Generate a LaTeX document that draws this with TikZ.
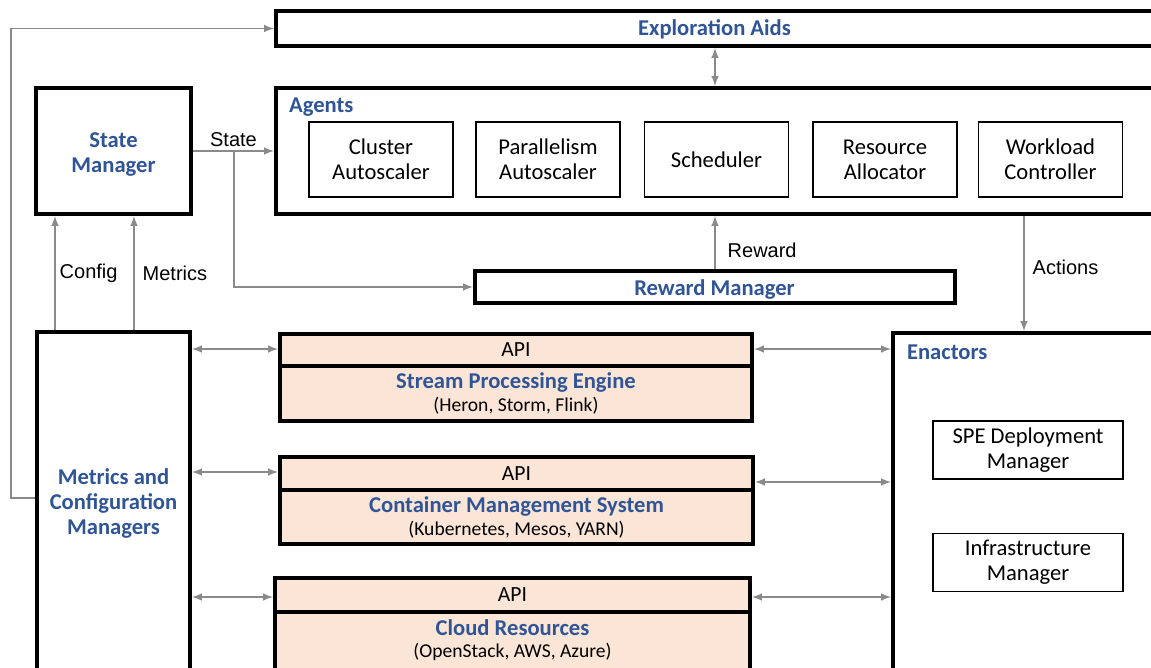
\documentclass[tikz,border=0pt]{standalone}
\usepackage{fontspec}
\setmainfont{Carlito}
\newfontfamily\arialfont{Liberation Sans}
\usetikzlibrary{positioning}
\definecolor{tblue}{RGB}{47,85,151}
\definecolor{peach}{RGB}{251,229,214}
\definecolor{flowgray}{RGB}{138,138,138}
\tikzset{
  bigbox/.style={draw, line width=2pt, fill=white},
  apibox/.style={draw, line width=2pt, fill=peach, align=center, font=\fontsize{10.8}{12.5}\selectfont},
  agentbox/.style={draw, line width=0.6pt, align=center, font=\fontsize{11.3}{12.5}\selectfont,
    minimum width=72pt, minimum height=37.5pt},
  title/.style={font=\fontsize{11.3}{12.5}\selectfont\bfseries, text=tblue, align=center},
  flow/.style={draw=flowgray, line width=0.7pt},
  flowlabel/.style={font=\arialfont\fontsize{10}{12}\selectfont, inner sep=2pt},
}
\newcommand{\sublabel}[1]{{\fontsize{9.8}{11}\selectfont #1}}
\newcommand{\boxtitle}[1]{{\bfseries\color{tblue}\fontsize{11.3}{12.5}\selectfont #1}}
\begin{document}
\begin{tikzpicture}[x=0.5pt, y=-0.5pt]
  \useasboundingbox (0,0) rectangle (1151,668);
  \clip (0,0) rectangle (1151,668);

  % top row
  \node[bigbox, minimum width=447pt, minimum height=17.5pt] (explore) at (723,28.5) {};
  \node[title] (exploretxt) at (714.5,29) {Exploration Aids};
  \node[bigbox, minimum width=447pt, minimum height=63pt] (agents) at (723,151) {};
  \node[title, anchor=west] (agentstxt) at (282,107) {Agents};
  \node[agentbox] (cluster) at (381,159.5) {Cluster\\Autoscaler};
  \node[agentbox] (parallel) at (548,159.5) {Parallelism\\Autoscaler};
  \node[agentbox] (sched) at (716.5,159.5) {Scheduler};
  \node[agentbox] (alloc) at (885,159.5) {Resource\\Allocator};
  \node[agentbox] (workload) at (1050.5,159.5) {Workload\\Controller};

  \node[bigbox, minimum width=77.5pt, minimum height=63pt] (state) at (113.5,151) {};
  \node[title] (statetxt) at (113.5,155) {State\\Manager};
  \node[bigbox, minimum width=240pt, minimum height=16pt] (reward) at (715,287) {};
  \node[title] (rewardtxt) at (714.5,289) {Reward Manager};

  % left column
  \node[bigbox, minimum width=76.5pt, minimum height=184pt] (mcm) at (113.5,516) {};
  \node[title] (mcmtxt) at (113.5,503) {Metrics and\\Configuration\\Managers};

  % middle stack
  \node[apibox, minimum width=236pt, minimum height=16pt] (speapi) at (516,350) {API};
  \node[apibox, minimum width=236pt, minimum height=27.5pt] (spe) at (516,393.5)
    {\boxtitle{Stream Processing Engine}\\[-1pt]\sublabel{(Heron, Storm, Flink)}};
  \node[apibox, minimum width=236.5pt, minimum height=16.5pt] (cmsapi) at (516.5,473.5) {API};
  \node[apibox, minimum width=236.5pt, minimum height=27pt] (cms) at (516.5,517)
    {\boxtitle{Container Management System}\\[-1pt]\sublabel{(Kubernetes, Mesos, YARN)}};
  \node[apibox, minimum width=237.5pt, minimum height=17pt] (cloudapi) at (512.5,595) {API};
  \node[apibox, minimum width=237.5pt, minimum height=34pt] (cloud) at (512.5,646) {};
  \node[align=center] (cloudtxt) at (512.5,640)
    {\boxtitle{Cloud Resources}\\[-1pt]\sublabel{(OpenStack, AWS, Azure)}};

  % right column
  \node[bigbox, minimum width=143.5pt, minimum height=183.5pt] (enact) at (1036.5,516.5) {};
  \node[title, anchor=west] (enacttxt) at (900,352) {Enactors};
  \node[agentbox, minimum width=95pt, minimum height=29pt] (spedm) at (1028,450) {SPE Deployment\\Manager};
  \node[agentbox, minimum width=95pt, minimum height=28.5pt] (infra) at (1028,562.5) {Infrastructure\\Manager};

  % connectors
  \draw[flow, -latex] ([yshift=9pt]mcm.west) -- ++(-12pt,0) |- (explore.west);
  \draw[flow, latex-latex] (explore.south -| reward.north) -- (agents.north -| reward.north);
  \draw[flow, -latex] (state.east) -- node[flowlabel, above] {State} (agents.west);
  \coordinate (split) at (234,151);
  \draw[flow, -latex] (split) |- (reward.west);
  \draw[flow, -latex] (reward.north) -- node[flowlabel, right, pos=0.35, xshift=4pt] {Reward} (agents.south -| reward.north);
  \draw[flow, -latex] ([xshift=-6.25pt]enact.north |- agents.south) -- node[flowlabel, right, pos=0.45, xshift=2pt] {Actions} ([xshift=-6.25pt]enact.north);
  \draw[flow, -latex] ([xshift=-29.25pt]mcm.north) -- node[flowlabel, right, pos=0.5] {Config} ([xshift=-29.25pt]mcm.north |- state.south);
  \draw[flow, -latex] ([xshift=10.25pt]mcm.north) -- node[flowlabel, right, pos=0.5, xshift=2pt] {Metrics} ([xshift=10.25pt]mcm.north |- state.south);

  \draw[flow, latex-latex] ([yshift=0.5pt]speapi.west -| mcm.east) -- ([yshift=0.5pt]speapi.west);
  \draw[flow, latex-latex] ([yshift=0.5pt]speapi.east) -- ([yshift=0.5pt]speapi.east -| enact.west);
  \draw[flow, latex-latex] ([yshift=0.75pt]cmsapi.west -| mcm.east) -- ([yshift=0.75pt]cmsapi.west);
  \draw[flow, latex-latex] ([yshift=-4.25pt]cmsapi.east) -- ([yshift=-4.25pt]cmsapi.east -| enact.west);
  \draw[flow, latex-latex] ([yshift=-1pt]cloudapi.west -| mcm.east) -- ([yshift=-1pt]cloudapi.west);
  \draw[flow, latex-latex] ([yshift=-1pt]cloudapi.east) -- ([yshift=-1pt]cloudapi.east -| enact.west);
\end{tikzpicture}
\end{document}
